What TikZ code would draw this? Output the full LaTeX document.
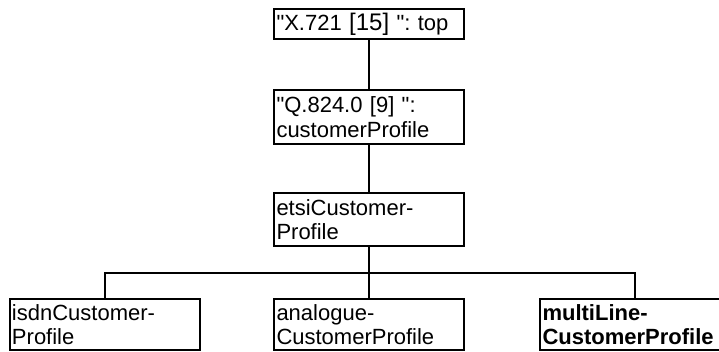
\documentclass[tikz,border=0pt]{standalone}
\usepackage{fontspec}
\setmainfont{Liberation Sans}[Ligatures=TeXOff]
\frenchspacing
\tikzset{
    cls/.style={draw, line width=2pt, align=left, text width=185pt,
        inner xsep=2.5pt, inner ysep=0pt, minimum width=190pt,
        font=\fontsize{22}{24.5}\selectfont},
    link/.style={line width=2pt}
}
\begin{document}
\begin{tikzpicture}[x=1pt,y=-1pt]
    % Page size as in the reference
    \useasboundingbox (0,0) rectangle (719,351);

    % The chain of superclasses
    \node[cls,minimum height=30pt] (top) at (369,24) {"X.721 {\fontsize{24}{24.5}\selectfont[15]} ": top};
    \node[cls,minimum height=54pt] (cprof) at (369,117) {"Q.824.0 [9] ":\\customerProfile};
    \node[cls,minimum height=53pt] (etsi) at (369,219.5) {etsiCustomer-\\Profile};

    % The three subclasses
    \node[cls,minimum height=51pt] (isdn) at (104.5,324.5) {isdnCustomer-\\Profile};
    \node[cls,minimum height=51pt] (analog) at (369,324.5) {analogue-\\CustomerProfile};
    \node[cls,minimum height=51pt,line width=2.4pt,font=\fontsize{22}{24.5}\selectfont\bfseries] (multi) at (635,324.5) {multiLine-\\CustomerProfile};

    % Inheritance lines
    \draw[link] (top) -- (cprof);
    \draw[link] (cprof) -- (etsi);
    \coordinate (bus) at (369,273);
    \draw[link] (etsi.south) -- (bus);
    \foreach \c in {isdn, analog, multi} {
        \draw[link] (bus) -| (\c.north);
    }
\end{tikzpicture}
\end{document}
